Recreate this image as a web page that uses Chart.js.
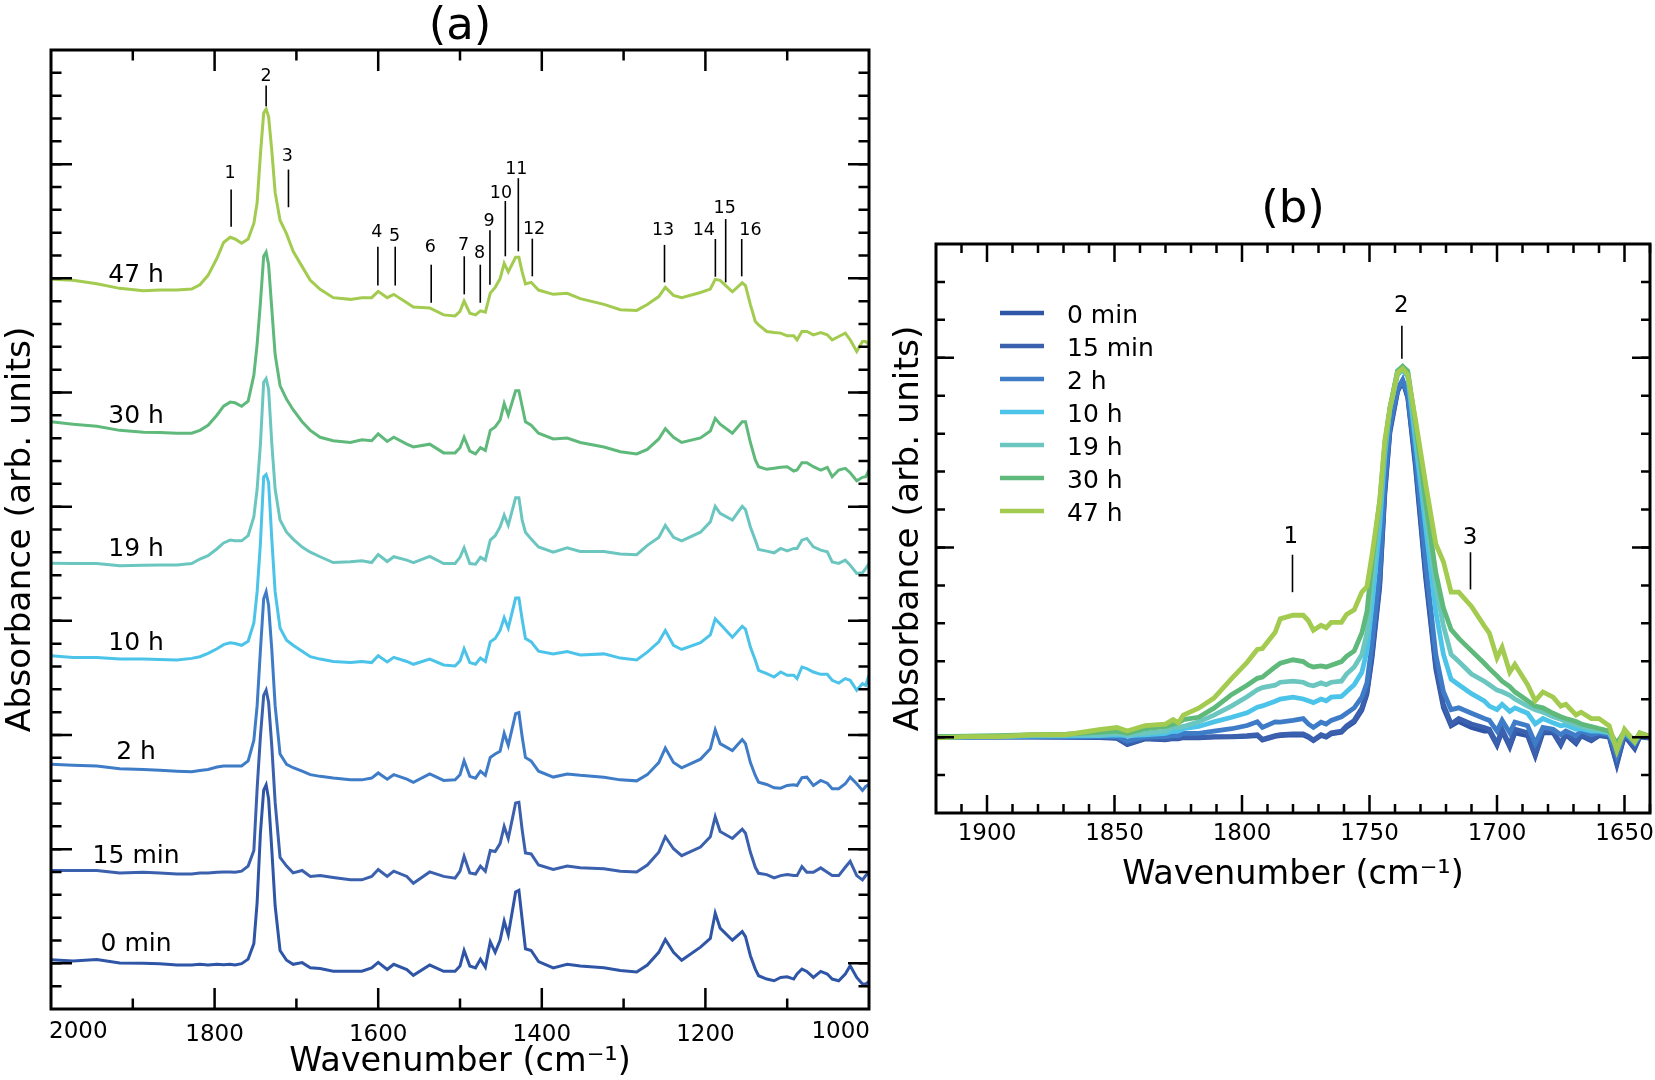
<!DOCTYPE html>
<html>
<head>
<meta charset="utf-8">
<title>Absorbance spectra</title>
<script src="https://cdn.jsdelivr.net/npm/chart.js@4"></script>
<style>
    html, body { margin: 0; padding: 0; background: #fff; }
    body { width: 1655px; height: 1080px; position: relative; overflow: hidden; }
    #panelA { position: absolute; left: 0; top: 0; }
    #panelB { position: absolute; left: 880px; top: 170px; }
</style>
</head>
<body>
<canvas id="panelA" width="880" height="1080"></canvas>
<canvas id="panelB" width="775" height="725"></canvas>
<script>
const seriesNames = ['0 min', '15 min', '2 h', '10 h', '19 h', '30 h', '47 h'];
const seriesColors = ['#2f55a6', '#3a60ae', '#3f7cc8', '#4cc3e8', '#6cc6c0', '#5fb97b', '#a2cb50'];

// panel (a), offset spectra, arbitrary units
const wavesA = [2000,1973,1944,1916,1887,1867,1846,1828,1818,1808,1797,1789,1781,1775,1767,1759,1752,1748,1744,1740,1737,1734,1730,1726,1720,1712,1704,1693,1683,1671,1655,1634,1620,1608,1600,1589,1581,1565,1557,1537,1520,1506,1500,1495,1488,1481,1475,1469,1463,1457,1451,1446,1441,1432,1428,1424,1420,1413,1404,1386,1369,1353,1324,1304,1284,1271,1257,1249,1239,1229,1206,1194,1188,1182,1167,1155,1151,1145,1139,1135,1125,1116,1108,1100,1092,1088,1082,1076,1068,1059,1051,1045,1037,1029,1023,1015,1008,1004,1000];
const a0min = [3.5,2.4,3.8,0.4,0,-0.3,-1.7,-1.7,-1,-1.7,-1,-1.4,-1,-1.7,-0.3,4.2,19.7,61,129.8,172.9,178.1,164.3,112.6,57.5,12.8,3.1,-1,0.7,-4.5,-5.2,-7.9,-7.9,-7.9,-4.5,1,-6.2,-1,-6.2,-12,-1.7,-7.9,-7.9,-2.7,12.8,-2.7,-4.5,4.2,-3.8,21.4,11,23.1,42.1,28.3,71.3,73,43.8,14.5,12.8,1.7,-4.5,-1,-2.7,-4.5,-7.2,-8.6,-1.7,11,23.8,11,3.1,16.2,24.8,50,35.2,23.1,31.7,26.6,7.6,-5.7,-12.4,-15.7,-17.4,-14.1,-13.4,-15.7,-10.7,-5.7,-8.1,-14.1,-8.1,-10.7,-15.7,-17.4,-10.7,-2.4,-14.1,-20.7,-20.7,-18.1];
const a15min = [92.7,92.7,92.7,90.3,91,90.3,89.2,89.2,90.3,90.3,91,91.3,91.3,91,92,97.1,112.6,174.6,226.3,267.6,272.8,260.7,216,160.9,105.8,97.1,90.3,92.7,86.8,87.8,85.8,83.4,83.4,86.8,93.7,86.8,92,86.8,79.9,91.3,86.8,85.1,92,106.8,90.3,89.2,97.1,92,112.6,111.6,119.5,136.7,124.7,160.2,160.9,133.3,110.2,109.2,98.2,93.7,97.1,95.4,94.4,92,91.3,98.2,110.9,126.4,114.4,107.5,116.1,126.4,146.4,131.6,124.7,134,129.9,110.9,95.9,89.9,88.6,85.3,87.6,88.6,87.6,87.6,96.6,90.9,90.9,95.3,90.9,87.6,87.6,95.9,101.9,87.6,83.3,87.6,90.9];
const a2h = [198.7,197.7,197,194.3,193.6,192.9,191.9,191.2,192.5,193.6,196,197,197,197,197,202.2,222.9,257.3,312.4,364,371,357.2,312.4,257.3,209,198.7,195.3,191.9,188.4,186.7,185,183.2,183.2,185,190.1,183.9,188.4,183.9,180.8,189.1,182.6,183.2,188.4,202.2,186.7,184.9,191.9,187.7,205.6,209,211.8,229.7,217.7,249.4,250.4,226.3,205.6,202.2,191.9,186,189.1,187.7,185.7,183.2,182.2,188.4,200.5,214.9,200.5,195.3,203.9,214.2,233.2,219.4,212.5,223.5,219.4,200.5,187.6,180.9,178.6,175.3,174.9,177.6,178.3,177.6,185.3,185.9,177.6,182.6,179.9,174.3,174.3,179.3,185.9,179.3,172.6,176.6,178.6];
const a10h = [307.2,305.5,305.5,303.8,303.8,303.4,303,304.5,306.2,309.6,314.1,318.2,320,319.3,317.6,321.7,339.9,370.9,419.2,485.6,488,480.4,422.6,370.9,334.8,322.7,317.6,311.7,306.2,303.8,301.4,300.3,301.4,300.3,307.2,301,305.5,301.4,298.6,303.8,297.9,296.9,302,314.1,300.3,298.6,304.8,301.4,321,324.4,332.4,345.1,334.8,364.7,364.7,343.4,324.4,321,311.7,309,311.4,307.9,309,304.8,303,310.7,321,332.4,317.6,313.4,320.3,327.9,344,338.9,325.5,336.5,333.7,315.8,302.6,292.6,289.3,285.9,290.9,287.6,287.6,284.3,295.9,294.3,290.9,288.6,288.6,282.6,279.9,284.3,282.6,272.6,279.3,277.6,287.6];
const a19h = [399.5,399.2,399.2,397.1,397.5,397.8,397.8,399.2,403.7,407.1,414,419.8,422.6,421.9,421.9,427,446,473.6,518.3,580.3,583.8,573.4,518.3,473.6,442.6,430.5,423.6,415.7,410.5,406,400.2,400.9,402,400.2,408.1,401.2,406,402.6,400.2,406.4,399.2,399.2,405.4,415,399.2,398.5,405.4,402.6,422.6,427,435.7,447.7,437.4,465,465,442.6,430.5,423.6,415.7,410.5,415,411.2,411.2,408.8,408.1,417.4,425.3,437.4,425.3,421.9,430.5,440.8,456.3,449.4,442.6,456.3,452.9,435.7,422.6,413.3,411.6,409.9,414.3,411.9,414.3,414.3,422.6,424.3,415.9,412.6,410.9,400.9,399.3,402.6,397.6,389.3,389.9,394.3,399.3];
const a30h = [540.8,538.4,536.3,532.2,530.4,530,529.4,529.4,532.2,537.3,547.6,556.3,560.4,559.7,556.3,561.4,587.3,618.2,659.6,706,710.2,697.5,652.7,607.9,576.9,563.2,552.8,540.8,532.2,525.3,521.8,520.1,522.8,521.8,528.7,521.1,525.3,518.4,515.6,518.4,509.7,509.7,514.9,525.3,511.5,508.7,514.9,512.2,532.2,535.6,542.5,559,547.6,571.7,571.7,556.3,540.8,537.3,529.4,523.6,524.6,520.1,515.6,510.8,508.7,513.2,523.6,533.9,525.3,520.1,524.6,531.5,544.2,538.4,529.4,540.8,540.8,520.1,502.6,495.9,493.3,494.3,495.3,495.9,491.6,492.6,499.9,499.9,495.9,492.6,495.3,485.9,492.6,494.3,489.9,481.9,485.3,485.9,492.6];
const a47h = [683,682,678.5,674,671.6,672.3,672.3,673.3,677.5,687,704.3,719.8,725,723.3,719,723.3,738.8,759.4,807.6,849,853,845.5,811,769.8,742,728.4,711,695.7,682,673,664.7,663,664.7,664.7,671,664.7,668,659.6,655.4,654.4,647.5,646.5,651,661.3,649.2,647.5,651.6,650.3,669.2,675,683.6,699,690.5,705,705,690.5,678.5,680,672.3,668,669,663.7,658,652.7,652,657.8,665.8,675,667,664.7,669.9,673.3,683,682,670.6,679.5,676.8,657.8,640.9,637.6,630.9,629.9,629.3,626.6,626.6,622.6,630.9,630.9,627.6,629.9,627.6,622.6,625.9,629.3,622.6,610.9,620.9,620.9,617.6];
const seriesA = [a0min, a15min, a2h, a10h, a19h, a30h, a47h];

// panel (b), baseline corrected spectra around the carbonyl band
const wavesB = [1920,1908,1895,1882,1869,1856,1849,1845,1838,1830,1827,1825,1823,1817,1811,1804,1798,1794,1792,1787,1785,1780,1776,1774,1772,1769,1767,1765,1761,1759,1756,1753,1751,1749,1746,1744,1742,1739,1737,1735,1732,1728,1724,1721,1718,1715,1710,1705,1703,1700,1698,1695,1693,1688,1685,1682,1678,1675,1673,1669,1667,1663,1660,1656,1653,1650,1646,1644,1640];
const b0min = [-0.4,0.2,0.1,0.1,-0.2,-0.4,-1.2,-7.4,-1.8,-2.6,-1.4,-1.6,-0.5,-0.8,0.1,0.2,0.9,1.6,-3,0.8,1.5,2.2,2,-0.2,-3.6,1.6,0,3.2,5,9.8,15.2,27,43,79,150,243,305,346,356.5,340,271,160,68,29.5,11.4,15.7,9.7,6.1,6.1,-8.2,6.1,-10,4.3,1.4,-18.9,4.3,4.3,-8.2,2.5,-6.4,1.4,-3.6,1.4,0,-27.8,1.4,-11.8,0,-1];
const b15min = [-0.3,0.1,0.2,0.3,0.2,0.1,-0.8,-6.8,-1.3,-2.2,-0.8,-1,0.1,-0.3,0.6,0.6,1.5,2.4,-2.2,1.5,2.5,3.2,3.2,0.7,-2.8,2.5,0.7,4.3,6.1,11.4,16.8,29.3,45.4,82.8,154.2,247.1,307.8,347,357,341.7,275.6,164.9,72.1,32.9,13.2,18.6,13.2,9.7,7.9,-6.4,7.9,-8.2,7.9,4.3,-17.1,6.1,6.1,-6.4,4.3,-4.6,2.5,-2.1,2.5,0.7,-26,2.5,-10,1,-0.5];
const b2h = [-0.4,0.2,0.3,0.5,0.4,0.6,0.6,-4,0.1,0.6,1.5,1.5,3.8,3.8,6.1,8.4,11.6,15.3,9.7,15.3,15,16.8,18.6,13.2,9.7,15,13.2,16.8,20.4,23.9,29.3,40,54.3,93.5,164.9,254.2,311.3,348.8,357.7,343.5,282.8,175.7,82.8,45.4,27.5,29.3,23.9,18.6,16.8,6.1,16.8,4.3,15,11.4,-6.4,9.7,7.9,2.5,6.1,1.4,6.1,2.5,4.3,2.5,-19,4.3,-6.4,2,0];
const b10h = [-0.5,0.3,0.5,1.2,1.4,1.5,2.4,1.5,2.4,3.8,6.1,6.1,8.4,10.7,15.3,19.9,24.4,30,31.3,35.9,38.2,40,38.2,36.4,34.6,38.2,36.4,40,40.7,45.4,52.5,65,86.4,132.8,211.4,282.8,329.2,363.1,367.7,361.3,297,211.4,125.7,82.8,57.9,52.5,43.6,36.4,31.1,27.5,32.9,25.7,29.3,23.9,13.2,18.6,14.3,11.4,12.2,7.9,8.6,6.1,6.1,4.3,-10,5,-5,3,0.5];
const b19h = [0.4,0.8,1,1.8,2.2,2.4,3.8,2.4,3.8,6.1,9.7,9.7,10.7,15.3,22.1,31.3,40.5,47.4,49.7,52,55,56,55,52.5,51.4,54.3,52.5,55,56,63.2,70.3,82.8,104.3,154.2,229.2,289.9,329.2,366.7,371.3,364.9,307.8,225.6,150.7,111.4,82.8,75.7,63.2,56,52.5,47.1,45.4,41.8,38.2,31.1,27.5,25,20.4,17.9,15.7,12.2,10.7,7.9,7.2,5,-8.2,6,-4,3,0.5];
const b30h = [0.5,1,1.5,2.5,3,4.7,6,3.8,8.4,10.7,13,14.3,17.5,19.9,29,42.8,52,58.9,60.2,70.3,74,77.5,75.7,72.1,70.3,71.4,70.3,72.1,75.7,81,86.4,104.3,125.7,175.7,236.4,293.5,329.2,366.7,371.3,366.7,314.9,236.4,164.9,129.2,107.8,98.9,86.4,74,68.6,61.4,56,50.7,45.4,36.4,31.1,29.3,23.9,20.4,18.6,15.7,13.2,10.7,8.6,6.1,-6.4,6.1,-4.6,4.3,0.7];
const b47h = [-0.8,0.6,0.6,2.4,2.4,7.4,9.7,6.1,11.6,13,17.5,14.3,22.1,29,39.1,58.9,74.9,87.8,88.7,105,118.5,122.1,122.1,116.8,107.1,112.1,109.6,115,115,122.8,127.5,145.3,150.7,182.8,236.4,297,329.2,364.9,369.2,363.1,318.5,254.2,193.5,175.7,145.3,145.3,131,111.4,104.3,79.3,90,65,72.8,52.5,36.4,45.3,40,31.1,32.9,22.2,25,18.6,18.6,11.4,-13.6,7.9,-4.6,4.3,0.7];
const seriesB = [b0min, b15min, b2h, b10h, b19h, b30h, b47h];

// peak markers in (a)
const peakNamesA = ['1','2','3','4','5','6','7','8','9','10','11','12','13','14','15','16'];
const peakWavesA = [1779.8,1737,1709.7,1600.4,1579.2,1535.2,1494.8,1475.2,1463.4,1444.6,1428.7,1411.6,1250,1187.8,1175.2,1155.6];
const peakTopsA = [772.6,876.6,792.6,715.6,715.6,697.6,706,697.6,731.9,761.2,784,723.6,717.4,723.3,743.2,723.3];
const peakBottomsA = [735.6,855.8,755,676.8,676.8,659.6,668,659.6,677.6,706,711,686,680,685.6,680,686];
const peakLabelWavesA = [1781,1737,1711,1601.6,1580,1536.4,1495.7,1476,1464.6,1449.9,1431.2,1409.5,1251.7,1202,1176.4,1145];
const peakLabelHeightsA = [791,888,807.6,732,727.4,716.4,718.8,711.2,742.9,770.6,794.9,735.3,733.6,734.3,756,734.3];

// time labels next to the curves in (a)
const curveLabelWave = 1896;
const curveLabelHeights = [21.6,110,213.6,322,416.6,548.6,689.6];

// peak markers in (b)
const peakNamesB = ['1','2','3'];
const peakWavesB = [1780.2,1737.3,1710.4];
const peakTopsB = [182.7,412,185.2];
const peakBottomsB = [145.2,379,148];
const peakLabelWavesB = [1780.9,1737.5,1710.6];
const peakLabelHeightsB = [202.4,434,201.3];

// frame ticks
const xMajorA = [1800,1600,1400,1200];
const xMinorA = [1900,1700,1500,1300,1100];
const yMajorA = [0,114,228,342,456,570,684,798];
const xMajorB = [1900,1850,1800,1750,1700,1650];
const xMinorB = [1910,1890,1880,1870,1860,1840,1830,1820,1810,1790,1780,1770,1760,1740,1730,1720,1710,1690,1680,1670,1660,1640];
const yMajorB = [0,190,380];

const FONT = '"DejaVu Sans", sans-serif';

function yMinors(low, high, step) {
    const out = [];
    for (let v = low; v <= high + 0.01; v += step) out.push(v);
    return out;
}

function makeFramePlugin(cfg) {
    return {
        id: 'frame',
        afterDatasetsDraw(chart) {
            const { ctx, chartArea: area, scales } = chart;
            ctx.save();
            ctx.strokeStyle = '#000';
            ctx.fillStyle = '#000';

            // ticks point inward on all four sides
            ctx.lineWidth = cfg.tickWidth;
            const vTick = (v, len) => {
                const px = scales.x.getPixelForValue(v);
                ctx.beginPath();
                ctx.moveTo(px, area.bottom); ctx.lineTo(px, area.bottom - len);
                ctx.moveTo(px, area.top); ctx.lineTo(px, area.top + len);
                ctx.stroke();
            };
            const hTick = (v, len) => {
                const py = scales.y.getPixelForValue(v);
                ctx.beginPath();
                ctx.moveTo(area.left, py); ctx.lineTo(area.left + len, py);
                ctx.moveTo(area.right, py); ctx.lineTo(area.right - len, py);
                ctx.stroke();
            };
            cfg.xMinor.forEach(v => vTick(v, cfg.minorLen));
            cfg.xMajor.forEach(v => vTick(v, cfg.majorLen));
            cfg.yMinor.forEach(v => hTick(v, cfg.minorLen));
            cfg.yMajor.forEach(v => hTick(v, cfg.majorLen));

            ctx.lineWidth = 3;
            ctx.strokeRect(area.left, area.top, area.right - area.left, area.bottom - area.top);

            // peak markers and numbers
            ctx.lineWidth = cfg.peakWidth;
            cfg.peakWaves.forEach((w, i) => {
                const px = scales.x.getPixelForValue(w);
                ctx.beginPath();
                ctx.moveTo(px, scales.y.getPixelForValue(cfg.peakTops[i]));
                ctx.lineTo(px, scales.y.getPixelForValue(cfg.peakBottoms[i]));
                ctx.stroke();
            });
            ctx.font = cfg.peakFont + 'px ' + FONT;
            ctx.textAlign = 'center';
            ctx.textBaseline = 'middle';
            cfg.peakNames.forEach((name, i) => {
                ctx.fillText(name, scales.x.getPixelForValue(cfg.peakLabelWaves[i]), scales.y.getPixelForValue(cfg.peakLabelHeights[i]) + 2);
            });
            if (cfg.extra) cfg.extra(ctx, scales, area);
            ctx.restore();
        }
    };
}

// (a) only: time labels, and the two end tick labels which sit inside the frame edges
function drawExtrasA(ctx, scales, area) {
    ctx.font = '25px ' + FONT;
    seriesNames.forEach((name, i) => {
        ctx.fillText(name, scales.x.getPixelForValue(curveLabelWave), scales.y.getPixelForValue(curveLabelHeights[i]) + 3);
    });
    ctx.font = '23px ' + FONT;
    ctx.textAlign = 'left';
    ctx.fillText('2000', area.left - 2, area.bottom + 23);
    ctx.textAlign = 'right';
    ctx.fillText('1000', area.right + 1, area.bottom + 23);
}

// the legend in (b) has a wider gap before the text than Chart.js leaves
function drawLegendB(ctx, scales, area) {
    ctx.font = '25px ' + FONT;
    ctx.textAlign = 'left';
    seriesNames.forEach((name, i) => {
        const y = area.top + 69 + i * 33;
        ctx.strokeStyle = seriesColors[i];
        ctx.lineWidth = 4.5;
        ctx.beginPath();
        ctx.moveTo(area.left + 64, y);
        ctx.lineTo(area.left + 108, y);
        ctx.stroke();
        ctx.fillText(name, area.left + 131, y + 3);
    });
}

function makeDatasets(waves, series, width) {
    // first dataset is painted last, so 47 h goes first
    return series.map((values, i) => ({
        label: seriesNames[i],
        data: values.map((v, j) => ({ x: waves[j], y: v })),
        borderColor: seriesColors[i],
        backgroundColor: seriesColors[i],
        borderWidth: width,
        pointRadius: 0,
        tension: 0
    })).reverse();
}

function makeOptions(o) {
    return {
        responsive: false,
        animation: false,
        devicePixelRatio: 1,
        layout: { padding: { right: o.rightPad, left: 0, top: 0, bottom: 0 } },
        plugins: {
            legend: { display: false },
            tooltip: { enabled: false },
            title: {
                display: true,
                text: o.title,
                color: '#000',
                fullSize: false,
                font: { family: FONT, size: 45, weight: 'normal', lineHeight: 1 },
                padding: o.titlePad
            }
        },
        scales: {
            x: {
                type: 'linear',
                reverse: true,
                min: o.xMin,
                max: o.xMax,
                grid: { display: false, drawTicks: false },
                border: { display: false },
                afterFit: s => {
                    s.height = o.xHeight;
                    s.paddingLeft = 0;
                    s.paddingRight = 0;
                },
                ticks: {
                    stepSize: o.xStep,
                    includeBounds: false,
                    autoSkip: false,
                    maxRotation: 0,
                    padding: o.xTickPad,
                    color: '#000',
                    font: { family: FONT, size: 23 },
                    callback: v => (o.hiddenLabels.includes(v) ? '' : String(v))
                },
                title: {
                    display: true,
                    text: 'Wavenumber (cm\u207B\u00B9)',
                    color: '#000',
                    font: { family: FONT, size: 33.5, lineHeight: 1 },
                    padding: { top: 0, bottom: o.xTitleBottom }
                }
            },
            y: {
                type: 'linear',
                min: o.yMin,
                max: o.yMax,
                grid: { display: false, drawTicks: false },
                border: { display: false },
                afterFit: s => { s.width = o.yWidth; },
                ticks: { display: false },
                title: {
                    display: true,
                    text: 'Absorbance (arb. units)',
                    color: '#000',
                    font: { family: FONT, size: 34.5, lineHeight: 1.2 },
                    padding: { top: o.yTitleTop, bottom: 0 }
                }
            }
        }
    };
}

const chartA = new Chart(document.getElementById('panelA').getContext('2d'), {
    type: 'line',
    data: { datasets: makeDatasets(wavesA, seriesA, 3) },
    options: makeOptions({
        title: '(a)', titlePad: { top: 5, bottom: 0 }, rightPad: 11,
        xMin: 1000, xMax: 2000, xStep: 200, xTickPad: 12, hiddenLabels: [1000, 2000], xHeight: 71, xTitleBottom: 1,
        yMin: -45.6, yMax: 912, yWidth: 51, yTitleTop: 0
    }),
    plugins: [makeFramePlugin({
        xMajor: xMajorA, xMinor: xMinorA, yMajor: yMajorA, yMinor: yMinors(-22.8, 889.2, 22.8),
        majorLen: 21, minorLen: 10.5, tickWidth: 2.5, peakWidth: 1.6, peakFont: 17.5,
        peakNames: peakNamesA, peakWaves: peakWavesA, peakTops: peakTopsA, peakBottoms: peakBottomsA,
        peakLabelWaves: peakLabelWavesA, peakLabelHeights: peakLabelHeightsA,
        extra: drawExtrasA
    })]
});

const chartB = new Chart(document.getElementById('panelB').getContext('2d'), {
    type: 'line',
    data: { datasets: makeDatasets(wavesB, seriesB, 4.8) },
    options: makeOptions({
        title: '(b)', titlePad: { top: 18, bottom: 11 }, rightPad: 5,
        xMin: 1640, xMax: 1920, xStep: 50, xTickPad: 7, hiddenLabels: [], xHeight: 82, xTitleBottom: 3,
        yMin: -76, yMax: 494, yWidth: 56, yTitleTop: 8
    }),
    plugins: [makeFramePlugin({
        xMajor: xMajorB, xMinor: xMinorB, yMajor: yMajorB, yMinor: yMinors(-38, 456, 38),
        majorLen: 18, minorLen: 9, tickWidth: 2.5, peakWidth: 1.6, peakFont: 23,
        peakNames: peakNamesB, peakWaves: peakWavesB, peakTops: peakTopsB, peakBottoms: peakBottomsB,
        peakLabelWaves: peakLabelWavesB, peakLabelHeights: peakLabelHeightsB,
        extra: drawLegendB
    })]
});
</script>
</body>
</html>
